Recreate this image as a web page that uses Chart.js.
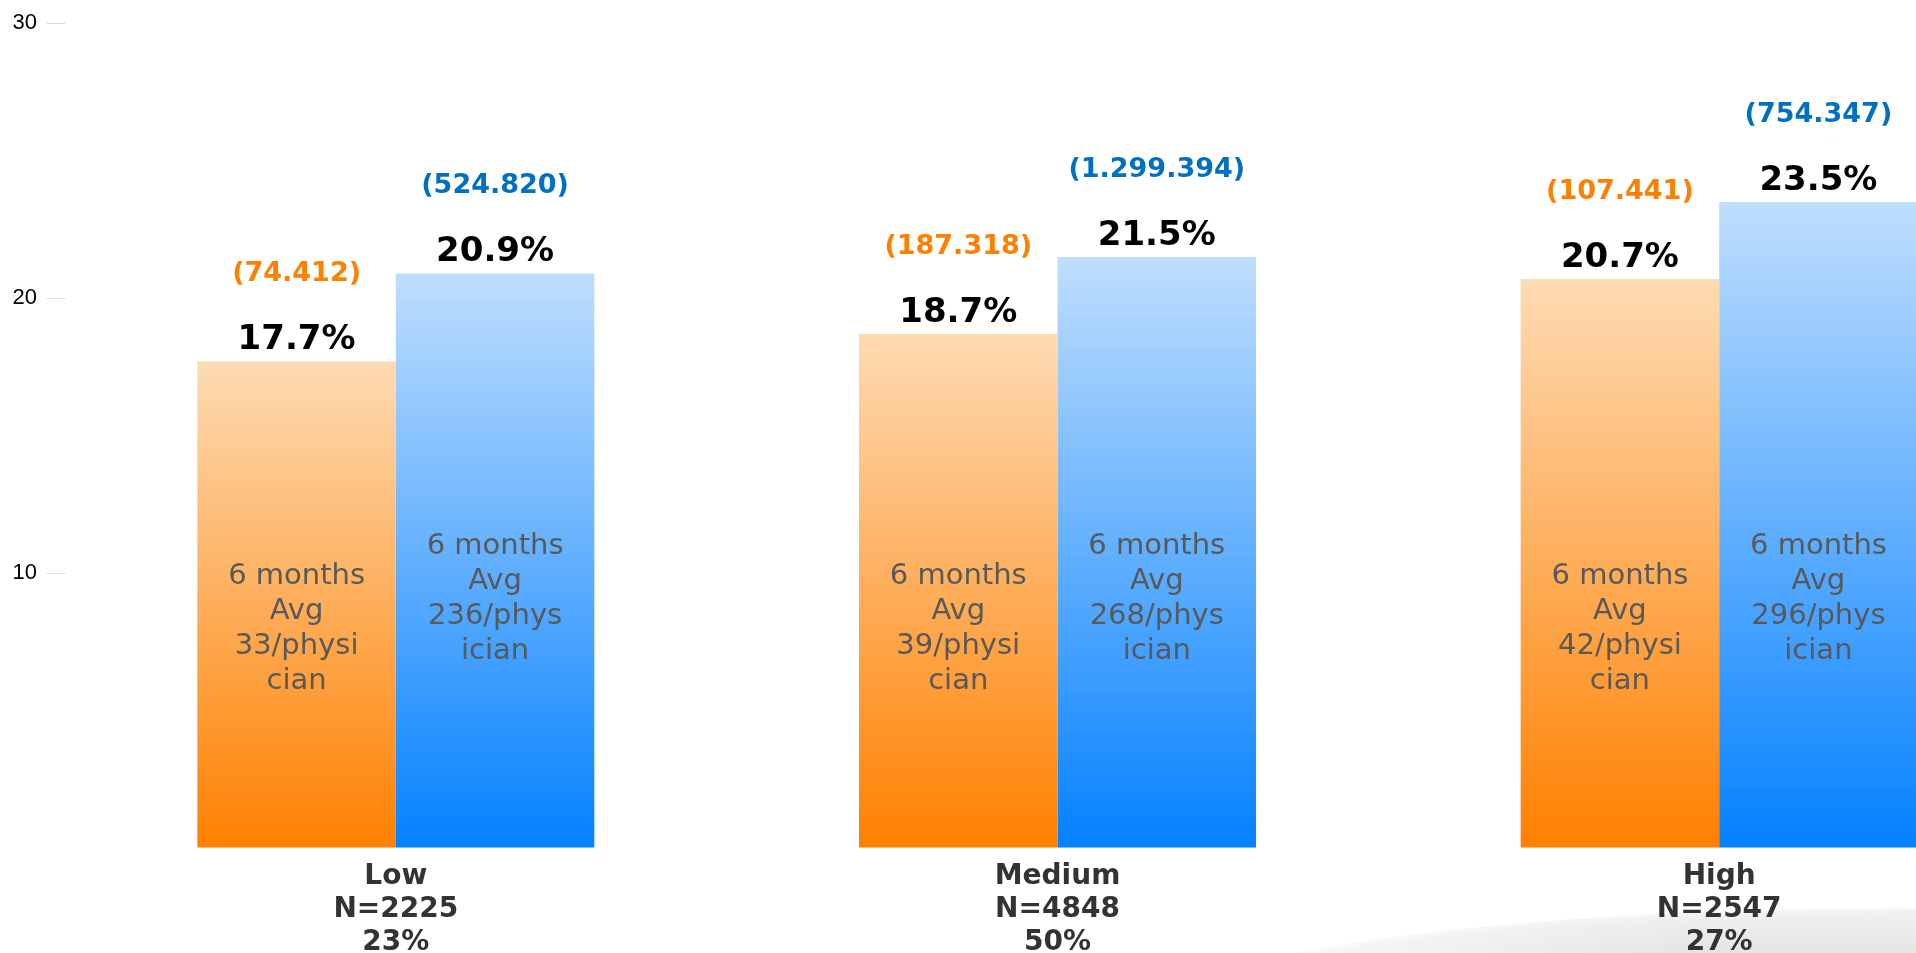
<!DOCTYPE html>
<html>
<head>
<meta charset="utf-8">
<title>Physician groups</title>
<script src="https://cdn.jsdelivr.net/npm/chart.js@4.4.1/dist/chart.umd.min.js"></script>
<style>
    html, body { margin: 0; padding: 0; background: #fff; overflow: hidden; }
    #wrap { position: relative; width: 2050px; height: 953px; }
    #swoosh {
        position: absolute; left: 1150px; top: 908px; width: 1500px; height: 220px;
        border-radius: 50%;
        background: linear-gradient(to bottom, #f2f2f2 0%, #e2e2e2 25%, #d6d6d6 50%);
        filter: blur(3px);
        -webkit-mask-image: linear-gradient(to right, transparent 0%, #000 35%);
        mask-image: linear-gradient(to right, transparent 0%, #000 35%);
    }
    canvas { position: absolute; left: 0; top: 0; }
</style>
</head>
<body>
<div id="wrap">
    <div id="swoosh"></div>
    <canvas id="chart" width="2050" height="953"></canvas>
</div>
<script>
const categories = ['Low', 'Medium', 'High'];
const groupSizes = ['N=2225', 'N=4848', 'N=2547'];
const groupShares = ['23%', '50%', '27%'];

const orangeValues = [17.7, 18.7, 20.7];
const blueValues = [20.9, 21.5, 23.5];

const orangeCounts = ['(74.412)', '(187.318)', '(107.441)'];
const blueCounts = ['(524.820)', '(1.299.394)', '(754.347)'];

const orangeNotes = [
    ['6 months', 'Avg', '33/physi', 'cian'],
    ['6 months', 'Avg', '39/physi', 'cian'],
    ['6 months', 'Avg', '42/physi', 'cian']
];
const blueNotes = [
    ['6 months', 'Avg', '236/phys', 'ician'],
    ['6 months', 'Avg', '268/phys', 'ician'],
    ['6 months', 'Avg', '296/phys', 'ician']
];

const FONT = '"DejaVu Sans", Verdana, sans-serif';

// vertical gradient over each bar, light at the top
function barGradient(top, bottom) {
    return function(context) {
        const chart = context.chart;
        const { ctx, chartArea, scales } = chart;
        if (!chartArea || context.dataIndex === undefined) return bottom;
        const value = context.dataset.data[context.dataIndex];
        const y0 = scales.y.getPixelForValue(value);
        const y1 = scales.y.getPixelForValue(0);
        const g = ctx.createLinearGradient(0, y0, 0, y1);
        g.addColorStop(0, top);
        g.addColorStop(1, bottom);
        return g;
    };
}

const barLabels = {
    id: 'barLabels',
    afterDatasetsDraw(chart) {
        const ctx = chart.ctx;
        const yScale = chart.scales.y;
        chart.data.datasets.forEach((ds, di) => {
            const meta = chart.getDatasetMeta(di);
            meta.data.forEach((bar, i) => {
                const x = bar.x;
                const top = bar.y;
                ctx.save();
                ctx.textAlign = 'center';
                ctx.textBaseline = 'alphabetic';

                ctx.font = 'bold 34px ' + FONT;
                ctx.fillStyle = '#000';
                ctx.fillText(ds.data[i].toFixed(1) + '%', x, top - 12);

                ctx.font = 'bold 27px ' + FONT;
                ctx.fillStyle = ds.countColor;
                ctx.fillText(ds.counts[i], x, top - 80);

                ctx.font = '29px ' + FONT;
                ctx.fillStyle = '#595959';
                const base = yScale.getPixelForValue(ds.noteAt);
                ds.notes[i].forEach((line, k) => {
                    ctx.fillText(line, x, base + k * 35);
                });
                ctx.restore();
            });
        });
    }
};

const ctx = document.getElementById('chart').getContext('2d');
new Chart(ctx, {
    type: 'bar',
    data: {
        labels: categories.map((c, i) => [c, groupSizes[i], groupShares[i]]),
        datasets: [
            {
                label: 'Group A',
                data: orangeValues,
                backgroundColor: barGradient('#fddbb3', '#ff8000'),
                counts: orangeCounts,
                countColor: '#ff8000',
                notes: orangeNotes,
                noteAt: 9.6
            },
            {
                label: 'Group B',
                data: blueValues,
                backgroundColor: barGradient('#bfdefd', '#0481ff'),
                counts: blueCounts,
                countColor: '#0070c0',
                notes: blueNotes,
                noteAt: 10.7
            }
        ]
    },
    options: {
        responsive: false,
        animation: false,
        layout: { padding: { top: 15, left: 0, right: 0, bottom: 0 } },
        datasets: {
            bar: { categoryPercentage: 0.6, barPercentage: 1.0, borderWidth: 0 }
        },
        plugins: {
            legend: { display: false },
            tooltip: { enabled: false }
        },
        scales: {
            x: {
                grid: { display: false, drawTicks: false },
                border: { display: false },
                ticks: {
                    color: '#333',
                    padding: 12,
                    font: { family: FONT, size: 28, weight: 'bold', lineHeight: '33px' }
                },
                afterFit(scale) { scale.height = 105; }
            },
            y: {
                min: 0,
                max: 30,
                border: { display: false },
                grid: {
                    drawOnChartArea: false,
                    drawTicks: true,
                    tickLength: 18,
                    color: c => (c.tick && c.tick.value === 0) ? 'rgba(0,0,0,0)' : '#d9d9d9'
                },
                ticks: {
                    stepSize: 10,
                    padding: 10,
                    color: '#000',
                    font: { family: '"Liberation Sans", Arial, sans-serif', size: 22 },
                    callback: v => v === 0 ? '' : v
                },
                afterFit(scale) { scale.width = 65; }
            }
        }
    },
    plugins: [barLabels]
});
</script>
</body>
</html>
